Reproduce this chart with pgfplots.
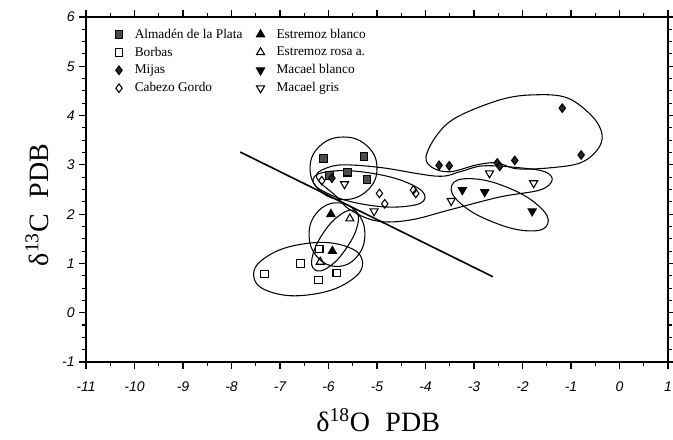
\documentclass[border=0pt]{standalone}
\usepackage{fontspec}
\setmainfont{Liberation Serif}
\newfontfamily\arialfont{Liberation Sans}
\usepackage{pgfplots}
\pgfplotsset{compat=1.18}
\begin{document}
\begin{tikzpicture}
\begin{axis}[
  scale only axis, width=436.5pt, height=258.75pt,
  xmin=-11, xmax=1, ymin=-1, ymax=6,
  xtick={-11,-10,...,1}, ytick={-1,0,...,6},
  minor x tick num=1, minor y tick num=3,
  tick align=outside,
  major tick length=5pt, minor tick length=3pt,
  axis line style={line width=1pt},
  every tick/.style={black, line width=0.8pt},
  /pgf/number format/assume math mode=true,
  tick label style={font=\arialfont\itshape\fontsize{10.5}{12}\selectfont},
  xticklabel style={yshift=-6pt},
  xlabel={δ\textsuperscript{18}O\hspace{0.55em}PDB},
  ylabel={δ\textsuperscript{13}C\hspace{0.55em}PDB},
  label style={font=\fontsize{21}{24}\selectfont},
  xlabel style={at={(axis description cs:0.502,-0.202)}, anchor=base},
  ylabel style={at={(axis description cs:-0.084,0.455)}, anchor=center},
  legend columns=2,
  legend cell align=left,
  legend style={at={(axis description cs:0.043,0.982)}, anchor=north west,
    draw=none, fill=none, font=\fontsize{10}{11.5}\selectfont, row sep=1pt,
    /tikz/column 1/.style={column sep=7pt},
    /tikz/column 2/.style={column sep=8.5pt},
    /tikz/column 3/.style={column sep=7pt}},
  every axis plot/.append style={line width=0.8pt},
]
% ---- data series (legend order: row-wise, 2 columns) ----
\addplot[only marks, mark=square*, mark size=2.8pt, draw=black, fill=black!70]
  coordinates {(-6.10,3.13) (-5.27,3.17) (-5.61,2.85) (-5.21,2.70) (-5.98,2.78)};
\addlegendentry{Almadén de la Plata}
\addplot[only marks, mark=triangle*, mark size=3.5pt, draw=black, fill=black]
  coordinates {(-5.95,2.00) (-5.92,1.25)};
\addlegendentry{Estremoz blanco}
\addplot[only marks, mark=square, mark size=2.8pt, draw=black]
  coordinates {(-6.19,1.29) (-6.58,1.00) (-7.32,0.79) (-6.21,0.66) (-5.83,0.81)};
\addlegendentry{Borbas}
\addplot[only marks, mark=triangle, mark size=3.5pt, draw=black]
  coordinates {(-5.56,1.91) (-6.17,1.03)};
\addlegendentry{Estremoz rosa a.}
\addplot[only marks, mark=diamond*, mark size=3.2pt, draw=black, fill=black!85]
  coordinates {(-5.93,2.73) (-3.72,2.99) (-3.51,2.98) (-2.52,3.04) (-2.47,2.97) (-2.16,3.09) (-1.18,4.15) (-0.79,3.20)};
\addlegendentry{Mijas}
\addplot[only marks, mark=triangle*, mark size=3.5pt, mark options={rotate=180}, draw=black, fill=black]
  coordinates {(-3.24,2.49) (-2.78,2.45) (-1.80,2.06)};
\addlegendentry{Macael blanco}
\addplot[only marks, mark=diamond, mark size=3.2pt, draw=black]
  coordinates {(-6.14,2.68) (-4.95,2.42) (-4.84,2.21) (-4.25,2.49) (-4.20,2.42)};
\addlegendentry{Cabezo Gordo}
\addplot[only marks, mark=triangle, mark size=3.5pt, mark options={rotate=180}, draw=black]
  coordinates {(-5.67,2.61) (-5.06,2.06) (-3.47,2.27) (-2.68,2.83) (-1.77,2.63)};
\addlegendentry{Macael gris}
% ---- separating line ----
\addplot[black, line width=1.2pt, forget plot] coordinates {(-7.82,3.26) (-2.61,0.73)};
% ---- envelopes ----
% Almaden
\addplot[black, smooth cycle, tension=0.75, forget plot] coordinates {
 (-5.00,2.93) (-5.20,3.38) (-5.69,3.565) (-6.18,3.38) (-6.38,2.93) (-6.18,2.48) (-5.69,2.295) (-5.20,2.48)};
% Cabezo Gordo
\addplot[black, smooth cycle, tension=0.75, forget plot] coordinates {
 (-4.01,2.33) (-4.38,2.16) (-5.22,2.19) (-6.02,2.42) (-6.32,2.70) (-5.95,2.87) (-5.11,2.83) (-4.31,2.61)};
% Macael gris
\addplot[black, smooth cycle, tension=0.6, forget plot] coordinates {
 (-6.24,2.82) (-5.97,2.96) (-5.62,3.00) (-4.88,2.94) (-3.76,2.77) (-3.29,2.86) (-2.81,2.98) (-2.05,2.94)
 (-1.54,2.86) (-1.39,2.69) (-1.64,2.49) (-2.46,2.35) (-3.49,2.09) (-4.32,1.88) (-5.00,1.86) (-5.56,2.09)
 (-5.87,2.39) (-6.18,2.65)};
% Macael blanco
\addplot[black, smooth cycle, tension=0.75, forget plot] coordinates {
 (-1.48,1.80) (-1.87,1.66) (-2.61,1.84) (-3.27,2.21) (-3.46,2.58) (-3.07,2.72) (-2.33,2.55) (-1.67,2.17)};
% Mijas
\addplot[black, smooth cycle, tension=0.6, forget plot] coordinates {
 (-3.99,3.16) (-3.76,3.61) (-3.35,3.97) (-2.46,4.32) (-1.78,4.42) (-1.08,4.36) (-0.55,3.97) (-0.36,3.61)
 (-0.46,3.30) (-0.81,3.04) (-1.43,2.94) (-2.11,2.92) (-2.53,3.04) (-2.94,3.00) (-3.49,2.86) (-3.85,2.94)};
% Estremoz blanco
\addplot[black, smooth cycle, tension=0.75, forget plot] coordinates {
 (-5.25,1.59) (-5.42,1.13) (-5.82,0.94) (-6.23,1.13) (-6.40,1.59) (-6.23,2.04) (-5.82,2.23) (-5.42,2.04)};
% Estremoz rosa
\addplot[black, smooth cycle, tension=0.75, forget plot] coordinates {
 (-5.45,2.06) (-5.40,1.78) (-5.63,1.31) (-5.99,0.93) (-6.28,0.87) (-6.33,1.15) (-6.10,1.63) (-5.74,2.00)};
% Borbas
\addplot[black, smooth cycle, tension=0.75, forget plot] coordinates {
 (-5.30,1.04) (-5.58,0.63) (-6.35,0.37) (-7.16,0.41) (-7.54,0.73) (-7.27,1.14) (-6.49,1.40) (-5.68,1.36)};
\end{axis}
\pgfresetboundingbox
\path[use as bounding box] ([shift={(-64.5pt,-58.5pt)}]current axis.south west) rectangle ([shift={(3.75pt,12.75pt)}]current axis.north east);
\end{tikzpicture}
\end{document}
